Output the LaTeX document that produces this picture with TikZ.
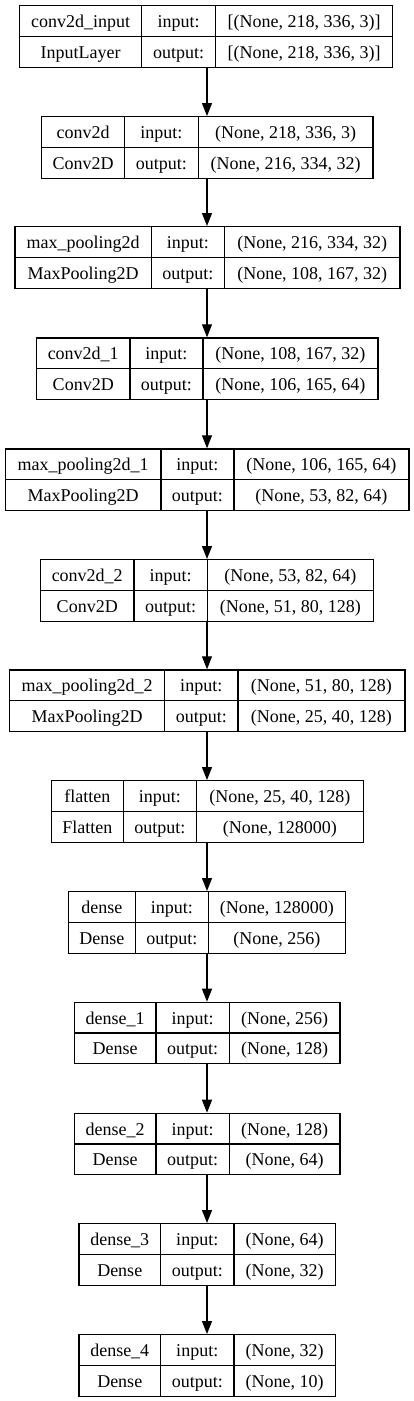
\documentclass[tikz,border=0pt]{standalone}
\usepackage{fontspec}
\setmainfont{Liberation Serif}
\usepackage{tikz}
\usetikzlibrary{arrows.meta}
\tikzset{
  cell/.style={draw=black, line width=1.2pt, inner sep=0pt, anchor=north west,
    minimum height=30.75pt, text height=16.5pt, text depth=3.5pt,
    font=\fontsize{18}{18}\selectfont},
  flow/.style={draw=black, line width=1.2pt, -{Triangle[length=13pt,width=10pt]}},
}
% one keras layer table: name, top, left, col1, col2, right, title, class, input shape; then output shape
\newcommand{\layer}[9]{%
  \def\Lname{#1}\def\Ltop{#2}\def\La{#3}\def\Lb{#4}\def\Lc{#5}\def\Ld{#6}%
  \def\Ltitle{#7}\def\Lclass{#8}\def\Lin{#9}%
  \layerout}
\newcommand{\layerout}[1]{%
  \pgfmathsetmacro\Lmid{\Ltop+30.75}%
  \pgfmathsetmacro\Lbot{\Ltop+61.5}%
  \node[cell, minimum width=\Lb pt-\La pt] (\Lname-title) at (\La,\Ltop) {\Ltitle};
  \node[cell, minimum width=\Lc pt-\Lb pt] (\Lname-inlab) at (\Lb,\Ltop) {input:};
  \node[cell, minimum width=\Ld pt-\Lc pt] (\Lname-in) at (\Lc,\Ltop) {\Lin};
  \node[cell, minimum width=\Lb pt-\La pt] (\Lname-class) at (\La,\Lmid) {\Lclass};
  \node[cell, minimum width=\Lc pt-\Lb pt] (\Lname-outlab) at (\Lb,\Lmid) {output:};
  \node[cell, minimum width=\Ld pt-\Lc pt] (\Lname-out) at (\Lc,\Lmid) {#1};
  \coordinate (\Lname-top) at (207,\Ltop);
  \coordinate (\Lname-bot) at (207,\Lbot);
}

\begin{document}
\begin{tikzpicture}[x=1pt, y=-1pt]
  \useasboundingbox (0,0) rectangle (413,1401);
  \layer{input}{5}{19}{141}{215}{392}{conv2d\_input}{InputLayer}{[(None, 218, 336, 3)]}{[(None, 218, 336, 3)]}
  \layer{conv2d}{116}{41}{124}{197.7}{372.3}{conv2d}{Conv2D}{(None, 218, 336, 3)}{(None, 216, 334, 32)}
  \layer{pool}{226}{14.3}{150.7}{224}{399.3}{max\_pooling2d}{MaxPooling2D}{(None, 216, 334, 32)}{(None, 108, 167, 32)}
  \layer{conv2d1}{337.3}{36}{129.3}{202.3}{377.3}{conv2d\_1}{Conv2D}{(None, 108, 167, 32)}{(None, 106, 165, 64)}
  \layer{pool1}{448.3}{4.7}{160.3}{233.3}{408.3}{max\_pooling2d\_1}{MaxPooling2D}{(None, 106, 165, 64)}{(None, 53, 82, 64)}
  \layer{conv2d2}{559}{40}{133.3}{206.7}{373}{conv2d\_2}{Conv2D}{(None, 53, 82, 64)}{(None, 51, 80, 128)}
  \layer{pool2}{669.3}{9}{164}{237.3}{404.3}{max\_pooling2d\_2}{MaxPooling2D}{(None, 51, 80, 128)}{(None, 25, 40, 128)}
  \layer{flatten}{780}{50.7}{122.7}{196}{362.7}{flatten}{Flatten}{(None, 25, 40, 128)}{(None, 128000)}
  \layer{dense}{891}{67.7}{134.7}{207.7}{345}{dense}{Dense}{(None, 128000)}{(None, 256)}
  \layer{dense1}{1001.7}{73.7}{155.3}{228.7}{339.3}{dense\_1}{Dense}{(None, 256)}{(None, 128)}
  \layer{dense2}{1112.7}{73.7}{155.3}{228.7}{339.3}{dense\_2}{Dense}{(None, 128)}{(None, 64)}
  \layer{dense3}{1223}{78.3}{160}{233.3}{334.7}{dense\_3}{Dense}{(None, 64)}{(None, 32)}
  \layer{dense4}{1334}{78.3}{160}{233.3}{334.7}{dense\_4}{Dense}{(None, 32)}{(None, 10)}
  % arrows between layers
  \foreach \a/\b in {input/conv2d, conv2d/pool, pool/conv2d1, conv2d1/pool1, pool1/conv2d2,
      conv2d2/pool2, pool2/flatten, flatten/dense, dense/dense1, dense1/dense2,
      dense2/dense3, dense3/dense4}
    \draw[flow] (\a-bot) -- (\b-top);
\end{tikzpicture}
\end{document}
